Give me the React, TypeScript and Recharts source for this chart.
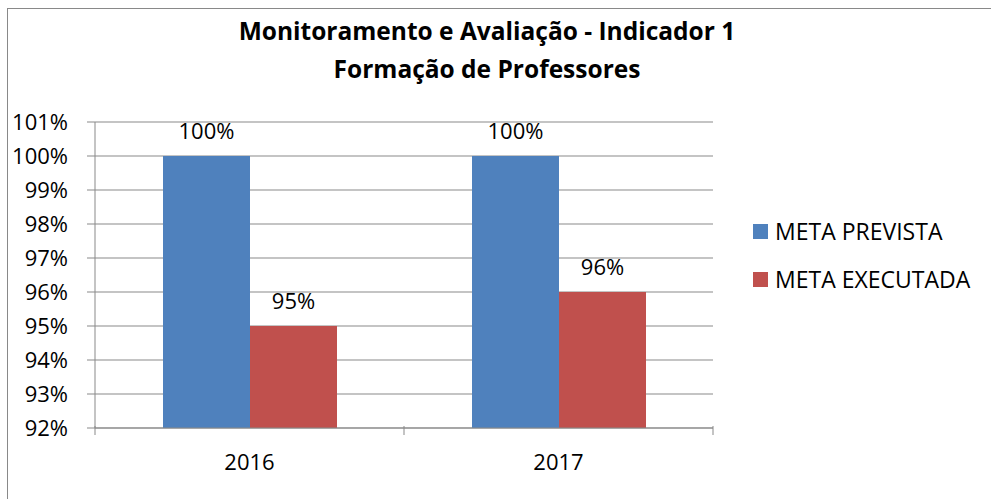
import React from "react";
import { BarChart, Bar, XAxis, YAxis, CartesianGrid, LabelList } from "recharts";

// Indicador 1 – formação de professores (%)
const anos = ["2016", "2017"];
const metaPrevista = [100, 100];
const metaExecutada = [95, 96];
const yTicks = [92, 93, 94, 95, 96, 97, 98, 99, 100, 101];

const series = [
  { key: "prevista", name: "META PREVISTA", color: "#4F81BD" },
  { key: "executada", name: "META EXECUTADA", color: "#C0504D" },
];

const data = anos.map((ano, i) => ({ ano, prevista: metaPrevista[i], executada: metaExecutada[i] }));

const W = 991;
const H = 499;
const M = { top: 122, right: 278, left: 0, bottom: 31 };
const Y_W = 95;
const FONT = "'Open Sans', sans-serif";
const AXIS = "#898989";
const half = (W - M.right - M.left - Y_W) / anos.length / 2;

function XTick(props: any) {
  const { x, y, payload, index } = props;
  return (
    <g>
      <line x1={x - half} x2={x - half} y1={y - 10} y2={y - 1} stroke={AXIS} />
      {index === anos.length - 1 && <line x1={x + half} x2={x + half} y1={y - 10} y2={y - 1} stroke={AXIS} />}
      <text x={x} y={y + 34} textAnchor="middle" fontSize={22} fontFamily={FONT} fill="#000">
        {payload.value}
      </text>
    </g>
  );
}

function Legenda() {
  return (
    <div style={{ position: "absolute", left: 753, top: 216, fontFamily: FONT, fontSize: 23 }}>
      {series.map((s) => (
        <div key={s.key} style={{ display: "flex", alignItems: "center", height: 30, marginBottom: 18 }}>
          <div style={{ width: 15, height: 15, background: s.color, marginRight: 7 }} />
          <span style={{ color: "#000" }}>{s.name}</span>
        </div>
      ))}
    </div>
  );
}

export default function App() {
  return (
    <div style={{ position: "absolute", left: 0, top: 0, width: W, height: H, background: "#fff", overflow: "hidden" }}>
      <div
        style={{
          position: "absolute",
          left: 7,
          top: 8,
          width: W - 8,
          height: H - 8,
          borderTop: `1px solid ${AXIS}`,
          borderLeft: `1px solid ${AXIS}`,
        }}
      />
      <div
        style={{
          position: "absolute",
          left: 0,
          top: 12,
          width: 974,
          textAlign: "center",
          fontFamily: FONT,
          fontWeight: 700,
          fontSize: 24.5,
          lineHeight: "38px",
          color: "#000",
        }}
      >
        Monitoramento e Avaliação - Indicador 1
        <br />
        Formação de Professores
      </div>
      <div style={{ position: "absolute", left: 0, top: 0 }}>
        <BarChart width={W} height={H} data={data} margin={M} barGap={0} barSize={87}>
          <CartesianGrid vertical={false} stroke={AXIS} />
          <XAxis
            dataKey="ano"
            height={40}
            axisLine={{ stroke: AXIS }}
            tickLine={false}
            tick={<XTick />}
          />
          <YAxis
            width={Y_W}
            domain={[92, 101]}
            ticks={yTicks}
            interval={0}
            tickFormatter={(v) => `${v}%`}
            axisLine={{ stroke: AXIS }}
            tickLine={{ stroke: AXIS }}
            tickSize={8}
            tickMargin={19}
            tick={{ fill: "#000", fontSize: 22, fontFamily: FONT }}
          />
          {series.map((s) => (
            <Bar key={s.key} dataKey={s.key} name={s.name} fill={s.color} isAnimationActive={false}>
              <LabelList
                dataKey={s.key}
                position="top"
                offset={17}
                formatter={(v: any) => `${v}%`}
                fill="#000"
                fontSize={22}
                fontFamily={FONT}
              />
            </Bar>
          ))}
        </BarChart>
      </div>
      <Legenda />
    </div>
  );
}
